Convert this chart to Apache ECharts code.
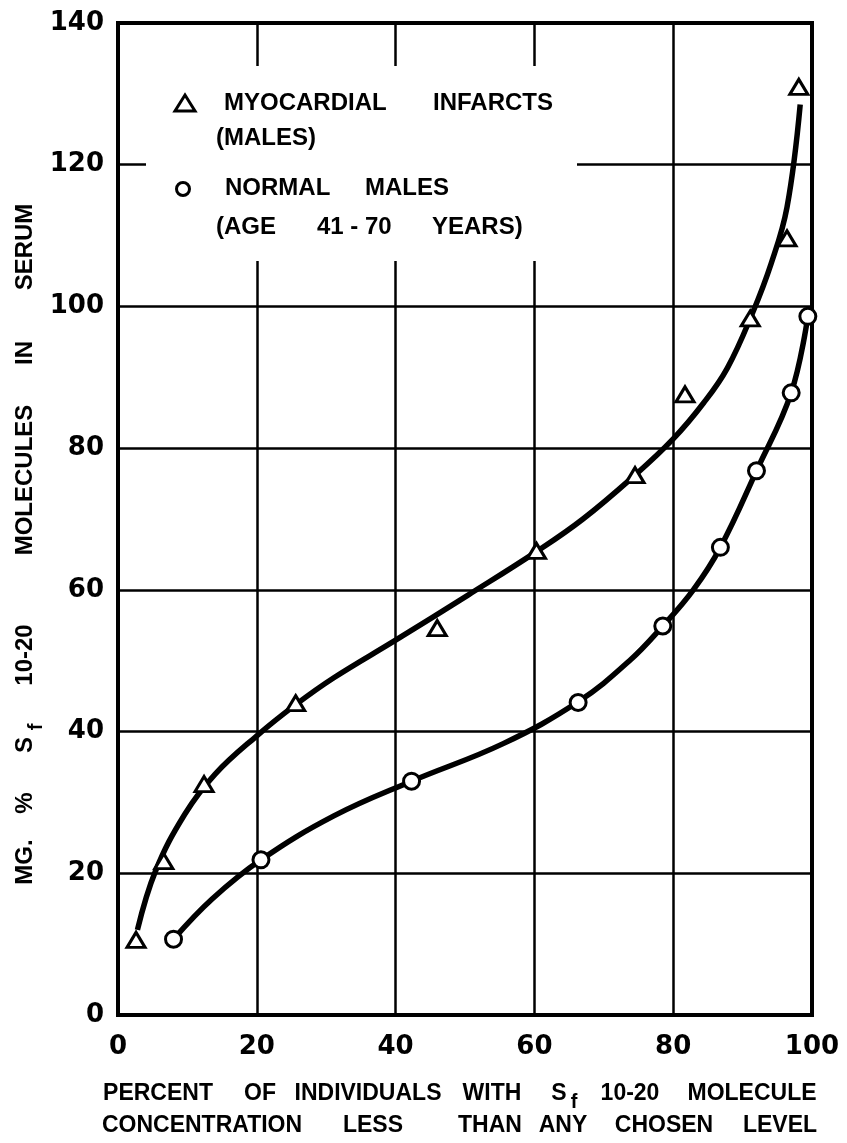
<!DOCTYPE html>
<html><head><meta charset="utf-8">
<script src="https://cdn.jsdelivr.net/npm/echarts@6/dist/echarts.min.js"></script>
<style>html,body{margin:0;padding:0;background:#fff}#c{width:847px;height:1143px}</style>
</head><body><div id="c"></div>
<script>
// ---------- data ----------
const xTickLabels = ['0', '20', '40', '60', '80', '100'];
const yTickLabels = ['0', '20', '40', '60', '80', '100', '120', '140'];

// observed points: myocardial infarcts (triangles)
const infarctX = [2.6, 6.6, 12.4, 25.6, 46.0, 60.3, 74.5, 81.7, 91.1, 96.4, 98.1];
const infarctY = [10.6, 21.7, 32.6, 44.0, 54.6, 65.5, 76.2, 87.6, 98.3, 109.6, 131.0];

// observed points: normal males (circles)
const normalX = [8.0, 20.6, 42.3, 66.3, 78.5, 86.8, 92.0, 97.0, 99.4];
const normalY = [10.7, 21.9, 33.0, 44.1, 54.9, 66.0, 76.8, 87.8, 98.6];

// hand-drawn fitted curves
const infarctCurveX = [2.8, 5.4, 9.6, 14.0, 20.0, 25.6, 31.1, 40.0, 50.5, 60.3, 67.0, 74.5, 80.0, 84.4, 87.8, 91.4, 94.1, 96.4, 98.3];
const infarctCurveY = [12.0, 20.3, 28.3, 34.0, 39.4, 43.8, 47.6, 52.9, 59.3, 65.4, 70.0, 76.2, 81.3, 86.4, 91.3, 99.0, 106.0, 114.0, 128.5];

const normalCurveX = [8.0, 13.6, 20.6, 31.1, 42.3, 55.5, 66.3, 73.7, 78.5, 82.9, 86.8, 92.0, 97.0, 99.4];
const normalCurveY = [10.7, 16.4, 21.9, 28.1, 33.0, 38.3, 44.2, 50.0, 54.9, 60.0, 66.0, 76.8, 87.8, 98.6];

// texts
const legendText1 = ['MYOCARDIAL', 'INFARCTS'];
const legendText2 = ['(MALES)'];
const legendText3 = ['NORMAL', 'MALES'];
const legendText4 = ['(AGE', '41 - 70', 'YEARS)'];
const yTitleWords = ['MG.', '%', 'S', 'f', '10-20', 'MOLECULES', 'IN', 'SERUM'];
const xTitleLine1 = ['PERCENT', 'OF', 'INDIVIDUALS', 'WITH', 'S', 'f', '10-20', 'MOLECULE'];
const xTitleLine2 = ['CONCENTRATION', 'LESS', 'THAN', 'ANY', 'CHOSEN', 'LEVEL'];

// ---------- rendering ----------
const FONT = '"Liberation Sans", Arial, sans-serif';
const NUMFONT = '"DejaVu Sans", sans-serif';
const zip = (a, b) => a.map((v, i) => [v, b[i]]);

function txt(text, x, y, opts) {
  opts = opts || {};
  const size = opts.size || 24;
  const align = opts.align || 'center';
  return {
    type: 'text', x: x, y: y, rotation: opts.rot || 0, z: 10,
    style: {
      text: text, font: 'bold ' + size + 'px ' + FONT, fill: '#000',
      textAlign: align, textVerticalAlign: 'middle', align: align, verticalAlign: 'middle'
    }
  };
}

const graphics = [];
// blank legend area (grid lines interrupted there)
graphics.push({ type: 'rect', z: 1, shape: { x: 146, y: 66, width: 431, height: 195 }, style: { fill: '#fff' } });
// legend markers
graphics.push({ type: 'polygon', z: 10, shape: { points: [[185, 95], [175, 111], [195, 111]] }, style: { fill: '#fff', stroke: '#000', lineWidth: 3 } });
graphics.push({ type: 'circle', z: 10, shape: { cx: 183, cy: 189, r: 6.5 }, style: { fill: '#fff', stroke: '#000', lineWidth: 3 } });
// legend texts
const legPos1 = [224, 433], legPos3 = [225, 365], legPos4 = [216, 317, 432];
legendText1.forEach((w, i) => graphics.push(txt(w, legPos1[i], 103, { align: 'left' })));
legendText2.forEach((w) => graphics.push(txt(w, 216, 138, { align: 'left' })));
legendText3.forEach((w, i) => graphics.push(txt(w, legPos3[i], 188, { align: 'left' })));
legendText4.forEach((w, i) => graphics.push(txt(w, legPos4[i], 227, { align: 'left' })));

// y axis title (rotated, reading bottom to top)
const yTitlePos = [[25, 862], [25, 803], [25, 745], [36, 727], [25, 655], [25, 480], [25, 353], [25, 247]];
yTitleWords.forEach((w, i) => {
  const sub = (w === 'f');
  graphics.push(txt(w, yTitlePos[i][0], yTitlePos[i][1], { rot: Math.PI / 2, size: sub ? 20 : 24 }));
});
// x axis title, two lines
const x1Pos = [[158, 1094], [260, 1094], [368, 1094], [492, 1094], [559, 1094], [574, 1102], [630, 1094], [752, 1094]];
xTitleLine1.forEach((w, i) => {
  const sub = (w === 'f');
  graphics.push(txt(w, x1Pos[i][0], x1Pos[i][1], { size: sub ? 20 : 23 }));
});
const x2Pos = [202, 373, 490, 563, 664, 780];
xTitleLine2.forEach((w, i) => graphics.push(txt(w, x2Pos[i], 1126, { size: 23 })));

const chart = echarts.init(document.getElementById('c'), null, { renderer: 'canvas' });
chart.setOption({
  animation: false,
  backgroundColor: '#fff',
  grid: { left: 118, right: 35, top: 23, bottom: 128, show: true, borderColor: '#000', borderWidth: 4, backgroundColor: 'transparent' },
  xAxis: {
    type: 'value', min: 0, max: 100, interval: 20,
    axisLine: { show: false }, axisTick: { show: false },
    splitLine: { show: true, lineStyle: { color: '#000', width: 2.5 } },
    axisLabel: { margin: 19, color: '#000', fontFamily: NUMFONT, fontWeight: 'bold', fontSize: 26,
      formatter: (v) => xTickLabels[Math.round(v / 20)] }
  },
  yAxis: {
    type: 'value', min: 0, max: 140, interval: 20,
    axisLine: { show: false }, axisTick: { show: false },
    splitLine: { show: true, lineStyle: { color: '#000', width: 2.5 } },
    axisLabel: { margin: 14, color: '#000', fontFamily: NUMFONT, fontWeight: 'bold', fontSize: 26,
      formatter: (v) => yTickLabels[Math.round(v / 20)] }
  },
  graphic: { elements: graphics },
  series: [
    { name: 'Myocardial infarcts curve', type: 'line', data: zip(infarctCurveX, infarctCurveY), smooth: 0.4,
      symbol: 'none', lineStyle: { color: '#000', width: 5.5 }, z: 3 },
    { name: 'Normal males curve', type: 'line', data: zip(normalCurveX, normalCurveY), smooth: 0.4,
      symbol: 'none', lineStyle: { color: '#000', width: 5.5 }, z: 3 },
    { name: 'Myocardial infarcts (males)', type: 'scatter', data: zip(infarctX, infarctY), symbol: 'triangle',
      symbolSize: [18, 15], itemStyle: { color: '#fff', borderColor: '#000', borderWidth: 3, opacity: 1 }, z: 5 },
    { name: 'Normal males (age 41-70 years)', type: 'scatter', data: zip(normalX, normalY), symbol: 'circle',
      symbolSize: 16, itemStyle: { color: '#fff', borderColor: '#000', borderWidth: 3, opacity: 1 }, z: 5 }
  ]
});
</script>
</body></html>
